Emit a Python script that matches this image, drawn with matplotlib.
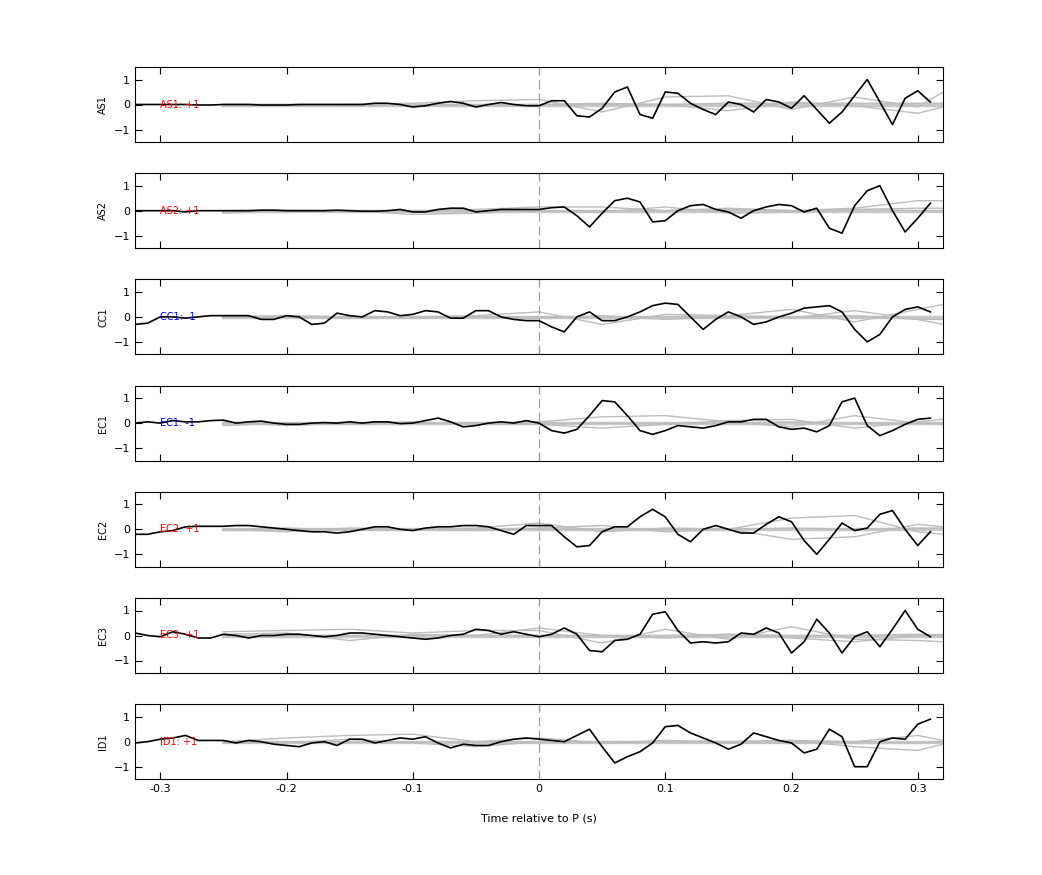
import numpy as np
import matplotlib.pyplot as plt

stations = ['AS1', 'AS2', 'CC1', 'EC1', 'EC2', 'EC3', 'ID1']
polarity = ['+1', '+1', '-1', '-1', '+1', '+1', '+1']

t = np.round(np.arange(-0.32, 0.315, 0.01), 2)  # 64 samples
tg = [-0.25, -0.20, -0.15, -0.10, -0.05, 0.0, 0.05, 0.10, 0.15, 0.20, 0.25, 0.30, 0.32]

as1 = [0, 0, 0, 0, 0, -0.02, -0.02, 0, 0, 0, -0.02, -0.02, -0.02, 0, 0, 0, 0, 0, 0, 0.05, 0.05, 0,
       -0.1, -0.05, 0.05, 0.12, 0.05, -0.1, 0, 0.08, 0, -0.05, -0.05, 0.15, 0.15, -0.45, -0.5, -0.15,
       0.5, 0.7, -0.4, -0.55, 0.5, 0.45, 0.05, -0.2, -0.4, 0.1, 0, -0.3, 0.2, 0.1, -0.15, 0.35, -0.2,
       -0.75, -0.3, 0.35, 1.0, 0.1, -0.8, 0.25, 0.55, 0.1]
as2 = [0, 0, 0, 0, -0.05, 0, 0, 0, 0, 0, 0.02, 0.02, 0, 0, 0, 0, 0.02, 0, -0.02, -0.02, 0, 0.05,
       -0.05, -0.05, 0.05, 0.1, 0.1, -0.05, 0, 0.05, 0.05, 0.05, 0.05, 0.12, 0.15, -0.2, -0.65, -0.1,
       0.4, 0.5, 0.35, -0.45, -0.4, 0, 0.2, 0.25, 0.05, -0.05, -0.3, 0, 0.15, 0.25, 0.2, -0.05, 0.1,
       -0.7, -0.9, 0.2, 0.8, 1.0, 0, -0.85, -0.3, 0.3]
cc1 = [-0.3, -0.25, 0, 0, -0.05, 0, 0.05, 0.05, 0.05, 0.05, -0.1, -0.1, 0.05, 0, -0.3, -0.25,
       0.15, 0.05, 0, 0.25, 0.2, 0.05, 0.1, 0.25, 0.2, -0.05, -0.05, 0.25, 0.25, 0, -0.1, -0.15,
       -0.15, -0.4, -0.6, 0, 0.2, -0.15, -0.15, 0, 0.2, 0.45, 0.55, 0.5, 0, -0.5, -0.1, 0.2, 0, -0.3,
       -0.2, 0, 0.15, 0.35, 0.4, 0.45, 0.2, -0.5, -1.0, -0.7, 0, 0.3, 0.4, 0.2]
ec1 = [0, 0.05, 0, 0.1, 0.05, 0.05, 0.1, 0.12, 0, 0.05, 0.08, 0, -0.05, -0.05, 0, 0.02, 0, 0.05,
       0, 0.05, 0.05, -0.02, 0, 0.1, 0.2, 0.05, -0.15, -0.1, 0, 0.05, 0, 0.1, 0, -0.3, -0.4, -0.25,
       0.3, 0.9, 0.85, 0.3, -0.3, -0.45, -0.3, -0.1, -0.15, -0.2, -0.1, 0.05, 0.05, 0.15, 0.15,
       -0.15, -0.25, -0.2, -0.35, -0.1, 0.85, 1.0, -0.1, -0.5, -0.3, -0.05, 0.15, 0.2]
ec2 = [-0.2, -0.2, -0.1, -0.05, 0.1, 0.12, 0.12, 0.12, 0.15, 0.15, 0.1, 0.05, 0, -0.05, -0.1,
       -0.1, -0.15, -0.1, 0, 0.1, 0.1, 0, -0.05, 0.05, 0.1, 0.1, 0.15, 0.15, 0.1, -0.05, -0.2,
       0.15, 0.15, 0.15, -0.3, -0.7, -0.65, -0.1, 0.1, 0.1, 0.5, 0.8, 0.5, -0.2, -0.5, 0, 0.15, 0,
       -0.15, -0.15, 0.2, 0.5, 0.3, -0.45, -1.0, -0.4, 0.25, -0.05, 0.05, 0.6, 0.75, 0, -0.65, -0.1]
ec3 = [0.1, 0, -0.05, 0.15, 0.05, -0.1, -0.1, 0.05, 0, -0.1, 0, 0, 0.05, 0.05, 0, -0.05, 0, 0.1,
       0.1, 0.05, 0, -0.05, -0.1, -0.15, -0.1, 0, 0.05, 0.25, 0.2, 0.05, 0.15, 0.05, -0.05, 0.05,
       0.3, 0.05, -0.6, -0.65, -0.2, -0.15, 0.05, 0.85, 0.95, 0.2, -0.3, -0.25, -0.3, -0.25, 0.1,
       0.05, 0.3, 0.1, -0.7, -0.25, 0.65, 0.1, -0.7, -0.05, 0.15, -0.45, 0.25, 1.0, 0.25, -0.05]
id1 = [-0.05, 0, 0.1, 0.15, 0.25, 0.05, 0.05, 0.05, -0.05, 0.05, 0, -0.1, -0.15, -0.2, -0.05,
       0, -0.15, 0.1, 0.1, -0.05, 0.05, 0.15, 0.1, 0.2, -0.05, -0.25, -0.1, -0.15, -0.15, 0,
       0.1, 0.15, 0.1, 0.05, 0, 0.25, 0.5, -0.2, -0.85, -0.6, -0.4, -0.05, 0.6, 0.65, 0.35, 0.15,
       -0.05, -0.3, -0.1, 0.35, 0.2, 0.05, -0.05, -0.45, -0.3, 0.5, 0.2, -1.0, -1.0, 0, 0.15, 0.1,
       0.7, 0.9]
traces = [as1, as2, cc1, ec1, ec2, ec3, id1]

# synthetic comparison traces (gray), three per station
gray = [
    [[0, -0.05, 0, 0.05, 0.15, 0.2, -0.3, 0.3, 0.35, -0.2, 0.3, -0.1, 0.5],
     [0, 0, -0.05, 0, -0.05, 0, 0.05, 0, -0.25, 0.1, -0.05, -0.35, -0.1],
     [0, 0, 0, 0, 0, 0, 0, 0, 0.05, 0.05, 0.05, 0.05, 0.05]],
    [[-0.1, 0, -0.05, 0, 0.05, 0.15, 0.15, 0, 0.1, 0, 0.1, 0.4, 0.4],
     [0, 0.02, 0, -0.15, -0.1, 0, -0.05, 0.15, -0.1, -0.05, 0.05, 0.1, 0.1],
     [0, 0, 0, 0, 0, 0, 0, 0, 0.05, 0, 0.05, 0, 0]],
    [[0, 0, -0.05, 0, 0.05, 0.2, -0.3, 0.1, 0.05, 0.3, -0.2, 0.3, 0.5],
     [0, 0.05, 0, -0.05, 0, -0.05, 0.05, -0.1, 0, -0.05, 0.25, -0.1, -0.3],
     [0, 0, 0, 0, 0, 0, 0, 0, 0.05, 0, 0.05, -0.1, -0.1]],
    [[-0.1, 0, -0.05, 0, 0, 0.05, 0.25, 0.3, 0.05, -0.15, 0.3, 0, -0.05],
     [0.05, -0.1, 0, 0.05, -0.05, -0.05, -0.2, -0.05, 0.1, 0.15, -0.2, 0.05, 0.15],
     [0, 0, 0, 0, 0, 0, 0, 0, 0, 0.05, 0, 0, 0]],
    [[-0.05, 0.05, -0.05, 0, 0.05, 0.25, -0.1, 0.05, 0, 0.45, 0.55, -0.1, -0.2],
     [0, -0.1, 0.05, 0, -0.05, 0.05, 0.15, -0.1, 0, -0.4, -0.3, 0.2, 0.1],
     [0, 0, 0, 0, 0, 0, 0, 0, 0, 0.05, 0, 0.05, 0.05]],
    [[0.15, 0.2, 0.25, 0.1, 0.2, 0.2, -0.3, 0.25, -0.15, 0.35, -0.15, -0.2, -0.25],
     [0.05, 0.1, -0.2, 0.05, 0, 0.3, 0, -0.1, 0.05, -0.1, -0.25, 0, 0.05],
     [0, 0, 0, 0, 0, 0, 0, 0, 0.05, 0, 0, 0.05, 0]],
    [[0, 0.15, 0.25, 0.3, 0, 0.15, -0.05, 0, -0.05, -0.05, 0, 0.25, 0.05],
     [-0.05, -0.05, 0.1, -0.05, -0.2, 0, -0.05, 0.05, 0, 0.05, -0.2, -0.35, -0.1],
     [0, 0, 0, 0, 0, 0, 0, 0, 0, 0.05, 0, -0.05, 0]],
]

fig = plt.figure(figsize=(10.42, 8.75), dpi=100)
left, width, height, step = 135 / 1042, 808 / 1042, 75 / 875, 106.2 / 875
for i, name in enumerate(stations):
    bottom = 1 - (142 + i * 106.2) / 875
    ax = fig.add_axes([left, bottom, width, height])
    ax.plot([-0.25, 0.32], [0, 0], color='#c8c8c8', lw=2.5)
    for g in gray[i]:
        ax.plot(tg, g, color='#bdbdbd', lw=1)
    ax.axvline(0, color='#999999', lw=0.8, ls=(0, (8, 4)))
    ax.plot(t, traces[i], color='black', lw=1.2)
    col = 'red' if polarity[i] == '+1' else 'blue'
    ax.text(-0.30, 0, f'{name}: {polarity[i]}', color=col, fontsize=7, va='center', ha='left')
    ax.set_xlim(-0.32, 0.32)
    ax.set_ylim(-1.5, 1.5)
    ax.set_yticks([-1, 0, 1])
    ax.set_xticks([-0.3, -0.2, -0.1, 0, 0.1, 0.2, 0.3])
    ax.tick_params(direction='in', labelsize=8, top=True, right=True, length=5)
    ax.set_ylabel(name, fontsize=7)
    if i < len(stations) - 1:
        ax.set_xticklabels([])
    else:
        ax.set_xticklabels(['-0.3', '-0.2', '-0.1', '0', '0.1', '0.2', '0.3'])
        ax.set_xlabel('Time relative to P (s)', fontsize=8, labelpad=14)

fig.savefig('out.png', dpi=100)
